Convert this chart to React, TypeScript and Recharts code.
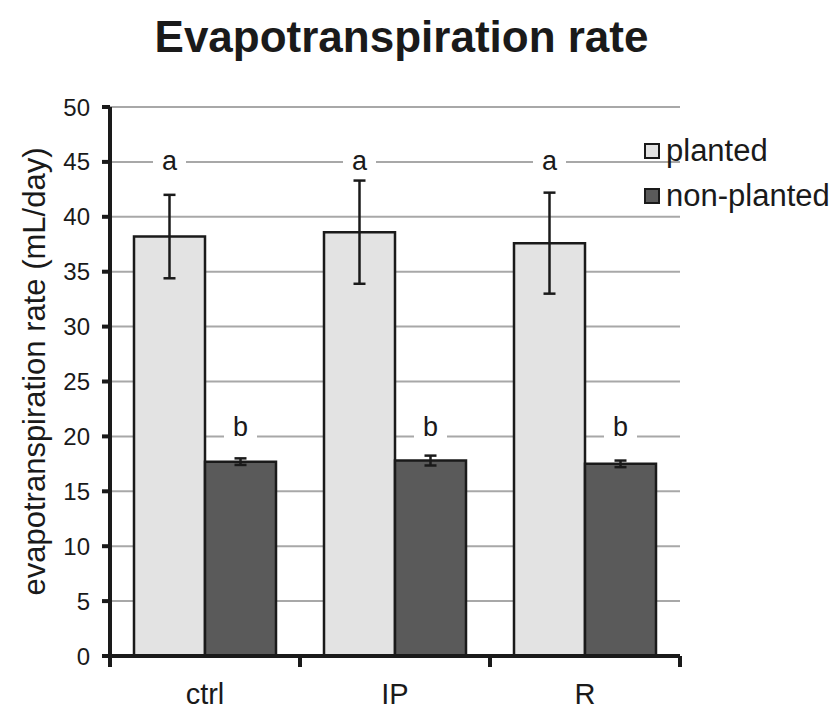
import React from 'react';
import { BarChart, Bar, XAxis, YAxis, CartesianGrid, ErrorBar, LabelList, Legend } from 'recharts';

const CATEGORIES = ['ctrl', 'IP', 'R'];
const PLANTED = [38.2, 38.6, 37.6];
const PLANTED_ERR = [3.8, 4.7, 4.6];
const NON_PLANTED = [17.7, 17.8, 17.5];
const NON_PLANTED_ERR = [0.3, 0.45, 0.3];
const PLANTED_LETTERS = ['a', 'a', 'a'];
const NON_PLANTED_LETTERS = ['b', 'b', 'b'];
const PLANTED_LETTER_LEVEL = 45;
const NON_PLANTED_LETTER_LEVEL = 20;
const Y_TICKS = [0, 5, 10, 15, 20, 25, 30, 35, 40, 45, 50];

const FONT = '"Liberation Sans", Arial, sans-serif';
const INK = '#1a1a1a';
const GRID_COLOR = '#a8a8a8';
const PLANTED_FILL = '#e3e3e3';
const NON_PLANTED_FILL = '#5a5a5a';

const SERIES = [
  { key: 'planted', name: 'planted', fill: PLANTED_FILL },
  { key: 'nonPlanted', name: 'non-planted', fill: NON_PLANTED_FILL },
];

const data = CATEGORIES.map((name, i) => ({
  name,
  planted: PLANTED[i],
  plantedErr: PLANTED_ERR[i],
  nonPlanted: NON_PLANTED[i],
  nonPlantedErr: NON_PLANTED_ERR[i],
}));

// significance letter sitting on a gridline, with a white patch hiding the line behind it
const letterContent = (letters: string[], level: number, dy: number) => (props: any) => {
  const vb = props.viewBox ?? props;
  const x = Number(vb.x);
  const y = Number(vb.y);
  const width = Number(vb.width);
  const height = Number(vb.height);
  const value = Number(props.value);
  const base = y + height;
  const py = base - (level * height) / value;
  const cx = x + width / 2;
  return (
    <g key={`letter-${props.index}`}>
      <rect x={cx - 16.5} y={py - 4} width={33} height={8} fill="#fff" />
      <text x={cx} y={py + dy} textAnchor="middle" fontFamily={FONT} fontSize={27} fill={INK}>
        {letters[props.index]}
      </text>
    </g>
  );
};

const CategoryTick = (props: any) => {
  const { x, y, payload } = props;
  const half = payload?.offset ?? 0;
  return (
    <g>
      <line x1={x - half} y1={y} x2={x - half} y2={y + 11} stroke={INK} strokeWidth={4} />
      <line x1={x + half} y1={y} x2={x + half} y2={y + 11} stroke={INK} strokeWidth={4} />
      <text x={x} y={y + 48} textAnchor="middle" fontFamily={FONT} fontSize={29} fill={INK}>
        {payload.value}
      </text>
    </g>
  );
};

const LegendContent = () => (
  <div style={{ fontFamily: FONT, fontSize: 31, color: INK }}>
    {SERIES.map(s => (
      <div key={s.key} style={{ display: 'flex', alignItems: 'center', height: 45 }}>
        <span
          style={{
            display: 'inline-block',
            width: 12,
            height: 12,
            border: `2px solid ${INK}`,
            backgroundColor: s.fill,
            marginRight: 6,
          }}
        />
        <span>{s.name}</span>
      </div>
    ))}
  </div>
);

export default function App() {
  return (
    <div style={{ position: 'absolute', left: 0, top: 0, width: 839, height: 710, background: '#fff' }}>
      <div
        style={{
          position: 'absolute',
          left: 0,
          top: 15,
          width: 803,
          textAlign: 'center',
          fontFamily: FONT,
          fontWeight: 'bold',
          fontSize: 44,
          lineHeight: '44px',
          color: INK,
        }}
      >
        Evapotranspiration rate
      </div>
      <BarChart
        width={839}
        height={710}
        data={data}
        margin={{ top: 107, right: 159, left: 0, bottom: 0 }}
        barCategoryGap={24}
        barGap={0}
      >
        <CartesianGrid vertical={false} stroke={GRID_COLOR} strokeWidth={2} />
        <XAxis
          dataKey="name"
          height={54}
          axisLine={{ stroke: INK, strokeWidth: 4 }}
          tickLine={false}
          tickSize={0}
          tickMargin={0}
          tick={<CategoryTick />}
        />
        <YAxis
          width={110}
          domain={[0, 50]}
          ticks={Y_TICKS}
          interval={0}
          axisLine={{ stroke: INK, strokeWidth: 4 }}
          tickLine={{ stroke: INK, strokeWidth: 4 }}
          tickSize={8}
          tickMargin={12}
          tick={{ fill: INK, fontSize: 24, fontFamily: FONT }}
          label={{
            content: (p: any) => {
              const vb = p.viewBox;
              const cx = vb.x + 34;
              const cy = vb.y + vb.height / 2 - 10;
              return (
                <text
                  x={cx}
                  y={cy}
                  transform={`rotate(-90, ${cx}, ${cy})`}
                  textAnchor="middle"
                  dominantBaseline="central"
                  fontFamily={FONT}
                  fontSize={31}
                  fill={INK}
                >
                  evapotranspiration rate (mL/day)
                </text>
              );
            },
          }}
        />
        <Legend
          layout="vertical"
          align="center"
          verticalAlign="middle"
          content={<LegendContent />}
          wrapperStyle={{ position: 'absolute', left: 644, top: 128, width: 'auto' }}
        />
        <Bar dataKey="planted" name="planted" fill={PLANTED_FILL} stroke={INK} strokeWidth={2.5} isAnimationActive={false}>
          <ErrorBar dataKey="plantedErr" width={6} stroke={INK} strokeWidth={2.5} direction="y" />
          <LabelList dataKey="planted" content={letterContent(PLANTED_LETTERS, PLANTED_LETTER_LEVEL, 8)} />
        </Bar>
        <Bar dataKey="nonPlanted" name="non-planted" fill={NON_PLANTED_FILL} stroke={INK} strokeWidth={2.5} isAnimationActive={false}>
          <ErrorBar dataKey="nonPlantedErr" width={6} stroke={INK} strokeWidth={2.5} direction="y" />
          <LabelList dataKey="nonPlanted" content={letterContent(NON_PLANTED_LETTERS, NON_PLANTED_LETTER_LEVEL, 0)} />
        </Bar>
      </BarChart>
    </div>
  );
}
